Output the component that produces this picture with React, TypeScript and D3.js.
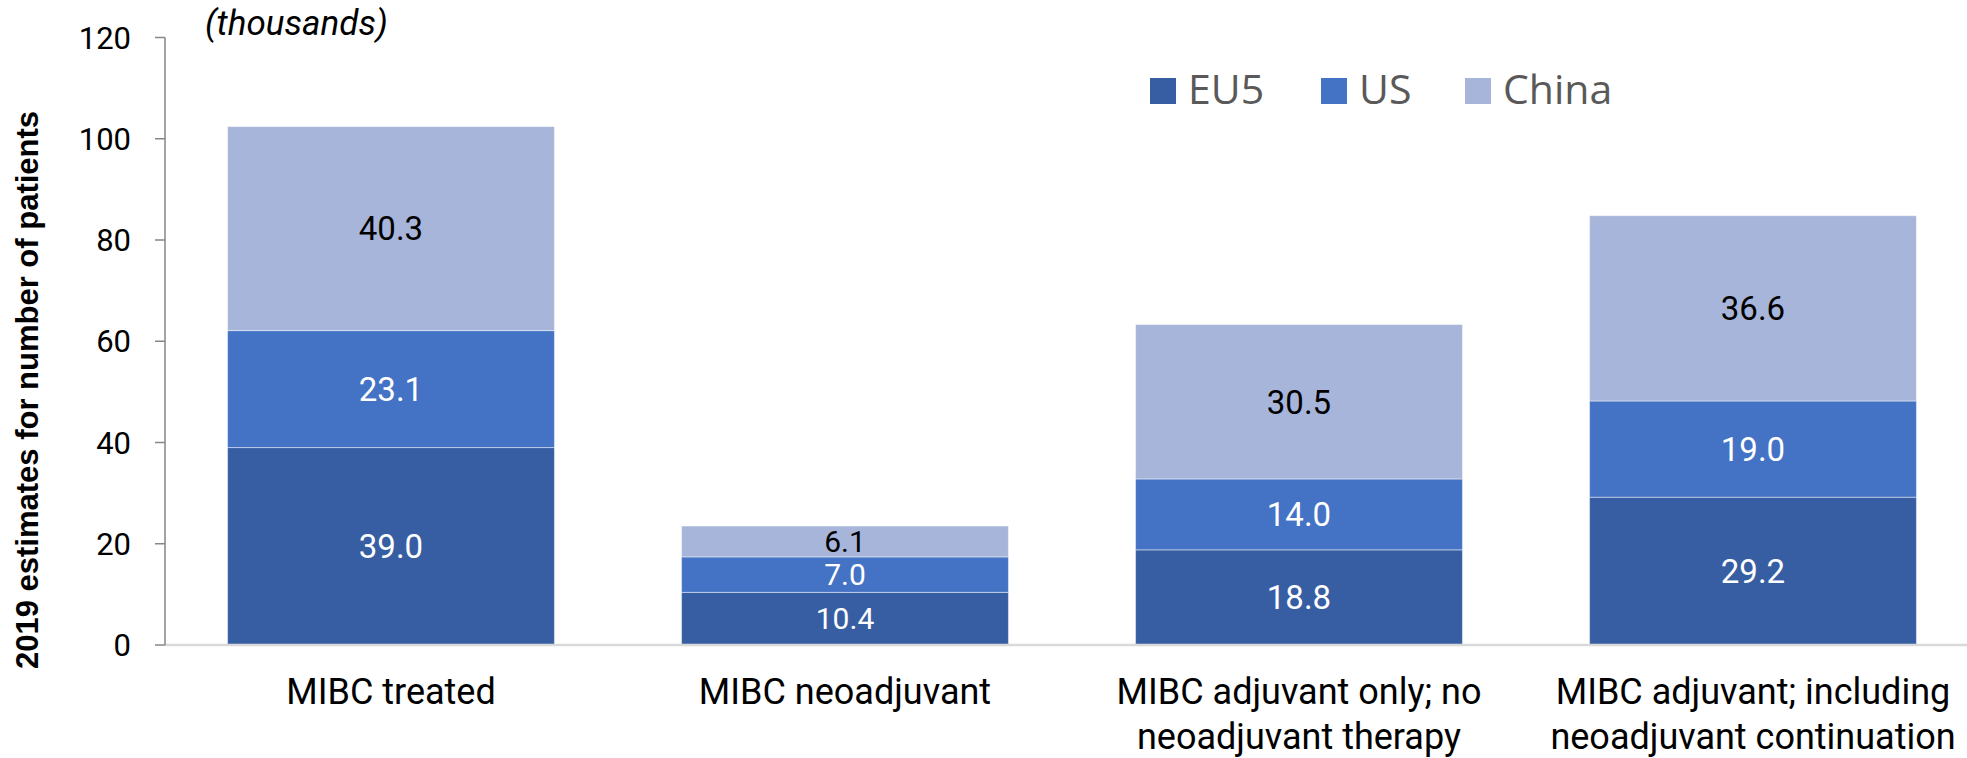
import React from "react";
import * as d3 from "d3";

const categories = [
  ["MIBC treated"],
  ["MIBC neoadjuvant"],
  ["MIBC adjuvant only; no", "neoadjuvant therapy"],
  ["MIBC adjuvant; including", "neoadjuvant continuation"],
];
const seriesNames = ["EU5", "US", "China"];
const eu5 = [39.0, 10.4, 18.8, 29.2];
const us = [23.1, 7.0, 14.0, 19.0];
const china = [40.3, 6.1, 30.5, 36.6];
const yTicks = [0, 20, 40, 60, 80, 100, 120];

const colors = ["#375EA2", "#4472C4", "#A7B5DA"];
const labelColors = ["#ffffff", "#ffffff", "#000000"];
const W = 1967;
const H = 758;
const roboto = "Roboto, sans-serif";
const AX = 165;

export default function App() {
  const keys = categories.map((c) => c.join(" "));
  const x = d3
    .scaleBand<string>()
    .domain(keys)
    .range([164, 1980])
    .paddingInner(0.28)
    .paddingOuter(0.14);
  const y = d3.scaleLinear().domain([0, 120]).range([645, 37.5]);
  const series = [eu5, us, china];
  const rows = keys.map((k, i) => ({ key: k, EU5: eu5[i], US: us[i], China: china[i] }));
  const stacked = d3.stack<any>().keys(seriesNames)(rows);

  return (
    <svg
      width={W}
      height={H}
      style={{ position: "absolute", left: 0, top: 0, background: "#fff" }}
    >
      {/* bars */}
      {stacked.map((layer, si) =>
        layer.map((d, ci) => (
          <rect
            key={`${si}-${ci}`}
            x={x(keys[ci])}
            y={y(d[1])}
            width={x.bandwidth()}
            height={y(d[0]) - y(d[1])}
            fill={colors[si]}
            stroke="rgba(255,255,255,0.45)"
            strokeWidth={1}
          />
        ))
      )}
      {/* labels */}
      {stacked.map((layer, si) =>
        layer.map((d, ci) => {
          const small = ci === 1;
          return (
            <text
              key={`l-${si}-${ci}`}
              x={(x(keys[ci]) as number) + x.bandwidth() / 2}
              y={(y(d[0]) + y(d[1])) / 2}
              dy="0.36em"
              textAnchor="middle"
              fill={labelColors[si]}
              fontFamily={roboto}
              fontSize={small ? 30 : 33}
            >
              {series[si][ci].toFixed(1)}
            </text>
          );
        })
      )}
      {/* baseline */}
      <line x1={AX} x2={W} y1={y(0)} y2={y(0)} stroke="#D9D9D9" strokeWidth={2.5} />
      {/* y axis */}
      <line x1={AX} x2={AX} y1={y(120)} y2={y(0)} stroke="#868686" strokeWidth={1.5} />
      {yTicks.map((t) => (
        <g key={t}>
          <line x1={155} x2={AX} y1={y(t)} y2={y(t)} stroke="#868686" strokeWidth={1.5} />
          <text
            x={131}
            y={y(t)}
            dy="0.36em"
            textAnchor="end"
            fontFamily={roboto}
            fontSize={31}
            fill="#000"
          >
            {t}
          </text>
        </g>
      ))}
      {/* category labels */}
      {categories.map((lines, ci) => (
        <text
          key={`c-${ci}`}
          x={(x(keys[ci]) as number) + x.bandwidth() / 2}
          y={704}
          textAnchor="middle"
          fontFamily={roboto}
          fontSize={36}
          fill="#000"
        >
          {lines.map((ln, li) => (
            <tspan key={li} x={(x(keys[ci]) as number) + x.bandwidth() / 2} dy={li === 0 ? 0 : 45}>
              {ln}
            </tspan>
          ))}
        </text>
      ))}
      {/* y title */}
      <text
        transform={`translate(38, 390) rotate(-90)`}
        textAnchor="middle"
        fontFamily="'Liberation Sans', Arial, sans-serif"
        fontWeight="bold"
        fontSize={31}
        fill="#000"
      >
        2019 estimates for number of patients
      </text>
      {/* units */}
      <text
        x={205}
        y={35}
        fontFamily={roboto}
        fontStyle="italic"
        fontSize={35}
        fill="#000"
      >
        (thousands)
      </text>
      {/* legend */}
      {seriesNames.map((s, i) => {
        const lx = [1150, 1321, 1465][i];
        return (
          <g key={s}>
            <rect x={lx} y={78} width={26} height={26} fill={colors[i]} />
            <text
              x={lx + 38}
              y={104}
              fontFamily="'Open Sans', sans-serif"
              fontSize={41}
              fill="#595959"
            >
              {s}
            </text>
          </g>
        );
      })}
    </svg>
  );
}
